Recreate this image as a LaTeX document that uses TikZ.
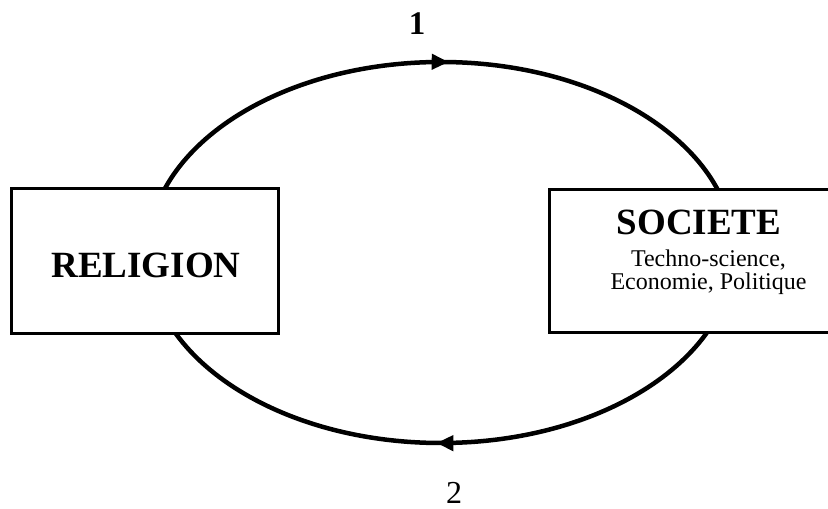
\documentclass[tikz,border=0pt]{standalone}
\usepackage{fontspec}
\setmainfont{Liberation Serif}
\usetikzlibrary{arrows.meta,decorations.markings}
\begin{document}
\begin{tikzpicture}[x=1pt,y=1pt,
  loopline/.style={line width=4.5pt},
  arrowat/.style={postaction={decorate},decoration={markings,
     mark=at position #1 with {\arrow{Triangle[length=17pt,width=15pt]}}}},
  boxstyle/.style={draw,line width=3.3pt,fill=white,inner sep=0pt},
  bigbold/.style={font=\fontsize{37}{40}\selectfont\bfseries},
  smalltxt/.style={font=\fontsize{24}{23}\selectfont,align=center}]
\useasboundingbox (0,0) rectangle (828,509);
\coordinate (c) at (441,256.5);
% loop
\draw[loopline,arrowat=0.51] ([shift={(180:293 and 190.5)}]c) arc[start angle=180,end angle=0,x radius=293,y radius=190.5];
\draw[loopline,arrowat=0.506] ([shift={(0:293 and 190.5)}]c) arc[start angle=0,end angle=-180,x radius=293,y radius=190.5];
% boxes
\node[boxstyle,minimum width=267pt,minimum height=145pt] (religion) at (145,248) {};
\node[boxstyle,minimum width=320pt,minimum height=143pt] (societe) at (709.5,248) {};
% texts
\node[bigbold,anchor=base,inner sep=0pt] (reltxt) at (146,231) {RELIGION};
\node[bigbold,anchor=base,inner sep=0pt] (soctitle) at (699,274) {SOCIETE};
\node[smalltxt,anchor=base,inner sep=0pt] (socsub) at (708.5,219) {Techno-science,\\Economie, Politique};
\node[font=\fontsize{33}{36}\selectfont\bfseries,anchor=base,inner sep=0pt] (one) at (417,474) {1};
\node[font=\fontsize{32}{36}\selectfont,anchor=base,inner sep=0pt] (two) at (454,5) {2};
\end{tikzpicture}
\end{document}
